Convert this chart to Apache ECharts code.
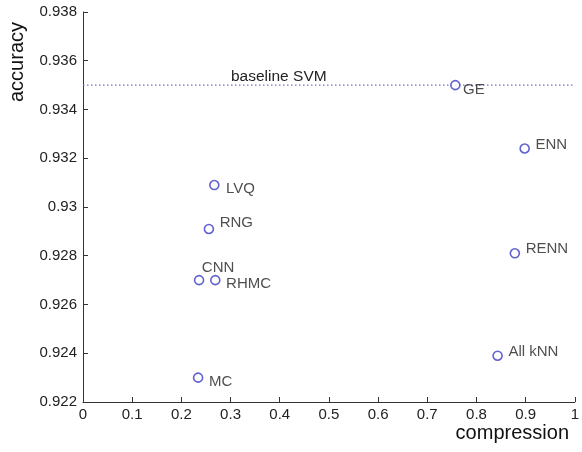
<!DOCTYPE html>
<html><head><meta charset="utf-8">
<script src="https://cdn.jsdelivr.net/npm/echarts@6/dist/echarts.min.js"></script>
<style>html,body{margin:0;padding:0;background:#fff}#c{width:582px;height:452px}</style>
</head><body><div id="c"></div>
<script>
const methods = ['GE','ENN','RENN','All kNN','LVQ','RNG','CNN','RHMC','MC'];
const compression = [0.757,0.898,0.878,0.843,0.267,0.256,0.236,0.269,0.234];
const accuracy = [0.9350,0.9324,0.9281,0.9239,0.9309,0.9291,0.9270,0.9270,0.9230];
const baselineSVM = 0.935;
const baselineName = 'baseline SVM';
const xTicks = {min:0,max:1,interval:0.1};
const yTicks = {min:0.922,max:0.938,interval:0.002};

// label placement (style): [dx, dy] from point centre to text left/centre
const labelOffsets = [[7,5],[10,-4],[10,-4],[10,-4],[11,4],[10,-6],[2,-12],[10,4],[10,4]];

const font = 'Liberation Sans, Arial, sans-serif';
const chart = echarts.init(document.getElementById('c'), null, {renderer:'canvas'});
chart.setOption({
  animation:false,
  grid:{left:83,right:5,top:12,bottom:50},
  xAxis:{type:'value',min:xTicks.min,max:xTicks.max,interval:xTicks.interval,
    axisLine:{lineStyle:{color:'#333',width:1}},
    axisTick:{inside:true,length:5,lineStyle:{color:'#333'}},
    axisLabel:{color:'#222',fontSize:15,fontFamily:font,margin:5},
    splitLine:{show:false}},
  yAxis:{type:'value',min:yTicks.min,max:yTicks.max,interval:yTicks.interval,
    axisLine:{show:true,lineStyle:{color:'#333',width:1}},
    axisTick:{show:true,inside:true,length:5,lineStyle:{color:'#333'}},
    axisLabel:{color:'#222',fontSize:15,fontFamily:font,margin:6,formatter:v=>String(+v.toFixed(3))},
    splitLine:{show:false}},
  graphic:[
    {type:'text',x:569,y:423,style:{text:'compression',fontSize:20,fontFamily:font,fill:'#111',align:'right',verticalAlign:'top'}},
    {type:'text',x:7,y:102,rotation:Math.PI/2,style:{text:'accuracy',fontSize:20,fontFamily:font,fill:'#111',align:'left',verticalAlign:'top'}},
    {type:'text',x:231,y:69,style:{text:baselineName,fontSize:15.5,fontFamily:font,fill:'#222',align:'left',verticalAlign:'top'}}
  ],
  series:[{
    type:'line',
    data:[[xTicks.min,baselineSVM],[xTicks.max,baselineSVM]],
    showSymbol:false,silent:true,
    lineStyle:{type:[1.5,2.5],color:'#7070d8',width:1.2},
    z:2
  },{
    type:'scatter',
    symbol:'circle',symbolSize:9,
    itemStyle:{color:'#fff',borderColor:'#3b3bc4',borderWidth:1.6},
    data:methods.map((m,i)=>({name:m,value:[compression[i],accuracy[i]],
      label:{show:true,position:'right',distance:0,offset:[labelOffsets[i][0]-4.5,labelOffsets[i][1]],
        formatter:'{b}',color:'#222',fontSize:15,fontFamily:font}})),
    z:5
  }]
});
</script></body></html>
